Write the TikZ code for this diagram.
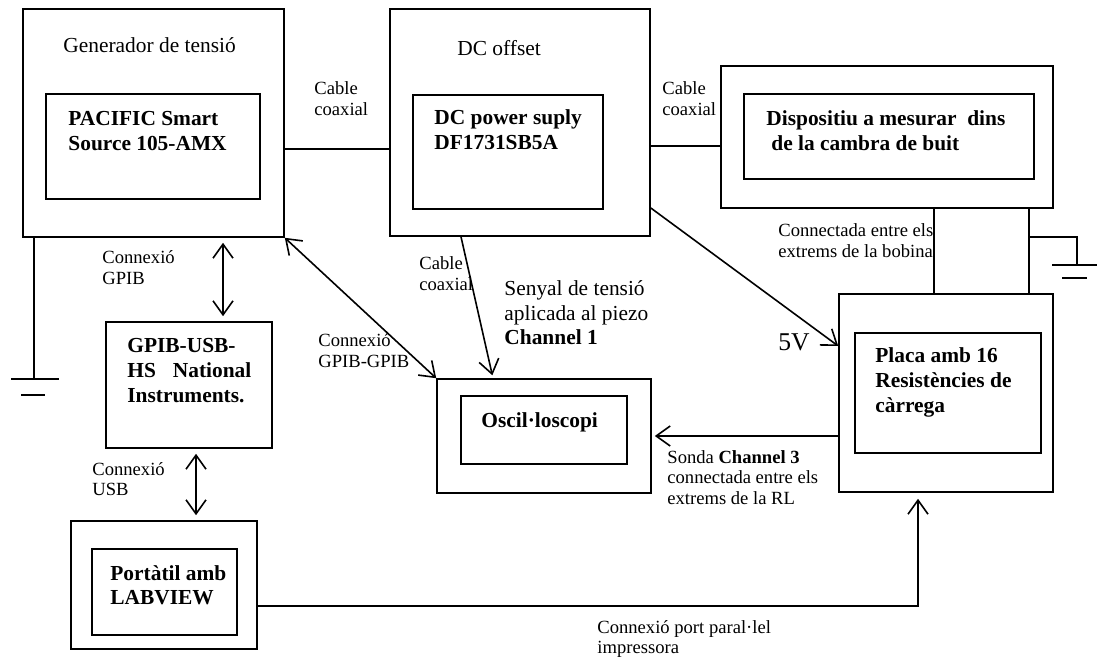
\documentclass[tikz,border=0pt]{standalone}
\usepackage{fontspec}
\setmainfont{Liberation Serif}
\usetikzlibrary{arrows.meta,fit}
\newcommand\etik{\fontsize{9.3}{10.3}\selectfont}
\newcommand\titelf{\fontsize{10.7}{12.2}\selectfont}
\newcommand\geraetf{\fontsize{10.7}{12.4}\selectfont\bfseries}
% Grundlinie der ersten Zeile liegt am Ankerpunkt
\newcommand\notiz[4][\etik]{\node[anchor=base west,inner sep=0,font=#1] (#2) at (#3)
  {\begin{tabular}[t]{@{}l@{}}#4\end{tabular}};}

\begin{document}
\begin{tikzpicture}[x=0.5pt,y=-0.5pt,>={Straight Barb[length=7pt,width=10pt]}]
\useasboundingbox (0,0) rectangle (1097,657);
\tikzset{kasten/.style={draw,line width=0.8pt,inner sep=0},
  leitung/.style={line width=0.8pt},
  pfeil/.style={line width=0.8pt,line join=miter}}

% ---- Geräte: äußere Kästen mit innerem Kasten
\node[kasten,fit={(23,9) (284,237)}] (ngen) {};
\node[kasten,fit={(46,94) (260,199)}] (npac) {};
\node[kasten,fit={(390,9) (650,236)}] (ndc) {};
\node[kasten,fit={(413,95) (603,209)}] (ndcin) {};
\node[kasten,fit={(721,66) (1053,208)}] (ndisp) {};
\node[kasten,fit={(744,94) (1034,179)}] (ndispin) {};
\node[kasten,fit={(839,294) (1053,492)}] (nplaca) {};
\node[kasten,fit={(855,333) (1041,453)}] (nplacain) {};
\node[kasten,fit={(437,379) (651,493)}] (nosc) {};
\node[kasten,fit={(461,396) (627,464)}] (noscin) {};
\node[kasten,fit={(106,322) (272,448)}] (ngpib) {};
\node[kasten,fit={(71,521) (257,649)}] (nport) {};
\node[kasten,fit={(92,549) (237,635)}] (nportin) {};

% ---- Beschriftung der Geräte
\notiz[\titelf]{tgen}{63,53}{Generador de tensió}
\notiz[\titelf]{tdc}{457,56}{DC offset}
\notiz[\geraetf]{tpac}{68,126}{PACIFIC Smart\\Source 105-AMX}
\notiz[\geraetf]{tdcin}{434,125}{DC power suply\\DF1731SB5A}
\notiz[\geraetf]{tdisp}{766,126}{Dispositiu a mesurar\ \ dins\\\hspace*{2.5pt}de la cambra de buit}
\notiz[\geraetf]{tplaca}{875,363}{Placa amb 16\\Resistències de\\càrrega}
\notiz[\geraetf]{tosc}{481,428}{Oscil·loscopi}
\notiz[\geraetf]{tgpib}{127,353}{GPIB-USB-\\\makebox[62pt][s]{HS National}\\Instruments.}
\notiz[\geraetf]{tport}{110,580}{Portàtil amb\\LABVIEW}

% ---- Beschriftung der Verbindungen
\notiz{tcoax}{314,95}{Cable\\coaxial}
\notiz{tcoaxb}{662,95}{Cable\\coaxial}
\notiz{tcoaxc}{419,270}{Cable\\coaxial}
\notiz{tbobina}{778,237}{Connectada entre els\\extrems de la bobina}
\notiz{tgpibcon}{102,264}{Connexió\\GPIB}
\notiz{tgpibgpib}{318,347}{Connexió\\GPIB-GPIB}
\notiz{tusb}{92,475}{Connexió\\USB}
\notiz[\titelf]{tsenyal}{504,296}{Senyal de tensió\\aplicada al piezo\\\textbf{Channel 1}}
\notiz[\fontsize{12.8}{14}\selectfont]{tcinc}{778,351}{5V}
\notiz{tsonda}{667,463}{Sonda \textbf{Channel 3}\\connectada entre els\\extrems de la RL}
\notiz{tparal}{597,633}{Connexió port paral·lel\\impressora}

% ---- Verbindungen
\draw[leitung] (ngen.east |- 0,149) -- (ndc.west |- 0,149);
\draw[leitung] (ndc.east |- 0,146) -- (ndisp.west |- 0,146);
\draw[pfeil,<->,shorten <=2.5pt,shorten >=2.5pt] (ngen.south -| 223,0) -- (ngpib.north -| 223,0);
\draw[pfeil,<->,shorten <=2.5pt,shorten >=2.5pt] (ngpib.south -| 196,0) -- (nport.north -| 196,0);
\draw[pfeil,<->] (ngen.south east) -- (nosc.north west);
\draw[pfeil,->,shorten >=1.5pt] (ndc.south -| 461,0) -- (nosc.north -| 493,0);
\draw[pfeil,->] (ndc.east |- 0,208) -- (nplaca.west |- 0,346);
\draw[pfeil,->,shorten >=1.5pt] (nplaca.west |- 0,436) -- (nosc.east |- 0,436);
\draw[leitung] (ndisp.south -| 934,0) -- (nplaca.north -| 934,0)
  (ndisp.south -| 1029,0) -- (nplaca.north -| 1029,0);
\draw[pfeil,->,shorten >=3pt] (nport.east |- 0,606) -| (nplaca.south -| 918,0);

% ---- Masse links und rechts
\coordinate (nmasseL) at (ngen.south -| 34,0);
\coordinate (nmasseR) at (1029,237);
\draw[leitung] (nmasseL) -- ++(0,142) (11,379) -- (59,379) (21,395) -- (45,395);
\draw[leitung] (nmasseR) -- (1077,237) -- (1077,265) (1052,265) -- (1097,265) (1062,278) -- (1087,278);
\end{tikzpicture}
\end{document}
